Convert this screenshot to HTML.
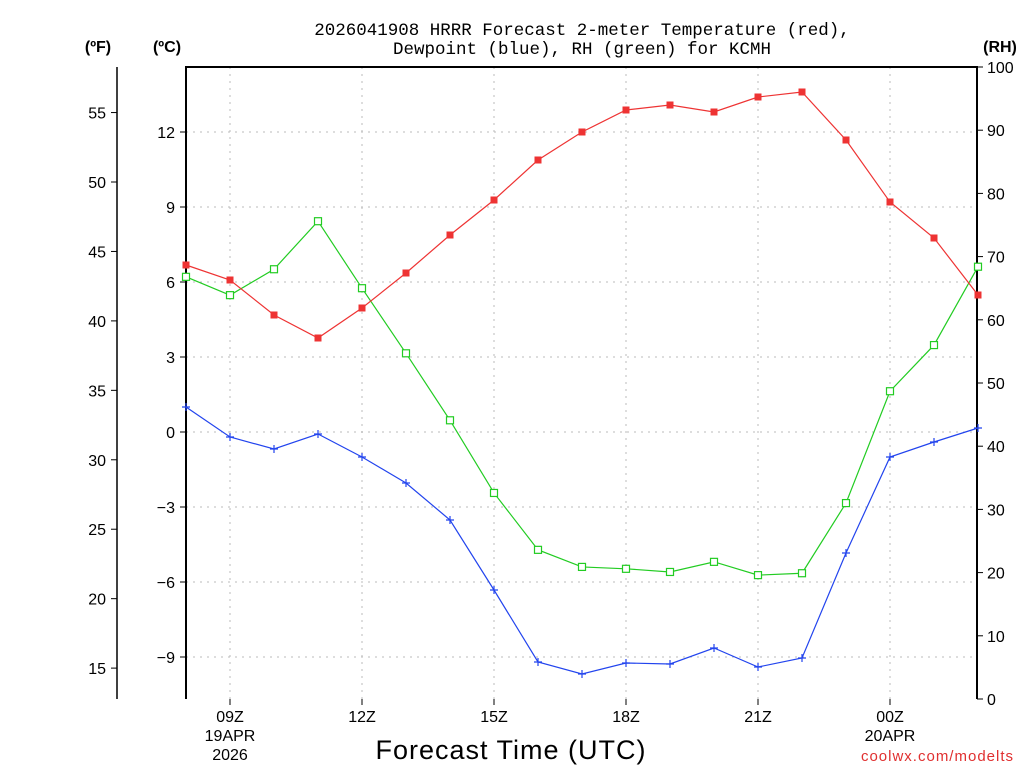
<!DOCTYPE html>
<html><head><meta charset="utf-8"><style>
html,body{margin:0;padding:0;background:#fff;}
svg{display:block;font-family:"Liberation Sans",sans-serif;}
</style></head><body>
<svg id="chart" width="1024" height="768" xmlns="http://www.w3.org/2000/svg">
<text x="582" y="35" text-anchor="middle" font-size="17.5" font-family="Liberation Mono, monospace">2026041908 HRRR Forecast 2-meter Temperature (red),</text>
<text x="582" y="54" text-anchor="middle" font-size="17.5" font-family="Liberation Mono, monospace">Dewpoint (blue), RH (green) for KCMH</text>
<text x="98" y="52" text-anchor="middle" font-size="16" font-weight="bold">(ºF)</text>
<text x="167" y="52" text-anchor="middle" font-size="16" font-weight="bold">(ºC)</text>
<text x="1000" y="52" text-anchor="middle" font-size="16" font-weight="bold">(RH)</text>
<text x="511" y="759" text-anchor="middle" font-size="27" letter-spacing="1">Forecast Time (UTC)</text>
<text x="1014" y="761" text-anchor="end" font-size="15" fill="#e03030" letter-spacing="1">coolwx.com/modelts</text>
<g id="g"></g>
</svg>
<script>
const hours = [8,9,10,11,12,13,14,15,16,17,18,19,20,21,22,23,24,25,26];
const tempC = [6.68,6.08,4.68,3.76,4.96,6.36,7.88,9.28,10.88,12.0,12.88,13.08,12.8,13.4,13.6,11.68,9.2,7.76,5.48];
const dewC = [1.0,-0.2,-0.68,-0.08,-1.0,-2.04,-3.52,-6.32,-9.2,-9.68,-9.24,-9.28,-8.64,-9.4,-9.04,-4.84,-1.0,-0.4,0.16];
const rh = [66.8,63.9,68.0,75.6,65.0,54.7,44.1,32.6,23.6,20.9,20.6,20.1,21.7,19.6,19.9,31.0,48.7,56.0,68.4];
const cTicks = [12,9,6,3,0,-3,-6,-9];
const fTicks = [55,50,45,40,35,30,25,20,15];
const rhTicks = [0,10,20,30,40,50,60,70,80,90,100];
const xTicks = [9,12,15,18,21,24];
const xLabels = ["09Z","12Z","15Z","18Z","21Z","00Z"];
const xSub1 = ["19APR","","","","","20APR"];
const xSub2 = ["2026","","","","",""];

const L=186,R=977,T=67,B=699;
const xs = h => L + (h-8)*44;
const yC = c => 432 - 25*c;
const yF = f => yC((f-32)/1.8);
const yR = r => B - (B-T)*r/100;
const NS="http://www.w3.org/2000/svg";
const g=document.getElementById('g');
function el(tag,attrs,text){const e=document.createElementNS(NS,tag);for(const k in attrs)e.setAttribute(k,attrs[k]);if(text!==undefined)e.textContent=text;g.appendChild(e);return e;}

cTicks.forEach(c=>{const e=el('line',{x1:L,x2:R,y1:yC(c),y2:yC(c),stroke:'#bbb','stroke-dasharray':'2,5'});

});
xTicks.forEach(h=>{const e=el('line',{x1:xs(h),x2:xs(h),y1:T,y2:B,stroke:'#bbb','stroke-dasharray':'2,5'});

});

let fr=el('path',{d:`M${L},${B} L${L},${T} L${R},${T} L${R},${B}`,fill:'none',stroke:'#000','stroke-width':2});


let fa=el('line',{x1:117,x2:117,y1:67,y2:699,stroke:'#000','stroke-width':1.5});



cTicks.forEach(c=>{el('line',{x1:L-6,x2:L,y1:yC(c),y2:yC(c),stroke:'#000'});
const t=el('text',{x:L-11,y:yC(c)+6,'text-anchor':'end','font-size':16},c===0?'0':String(c).replace('-','−'));

});
fTicks.forEach(f=>{el('line',{x1:111,x2:117,y1:yF(f),y2:yF(f),stroke:'#000'});
const t=el('text',{x:106,y:yF(f)+6,'text-anchor':'end','font-size':16},String(f));

});
rhTicks.forEach(r=>{el('line',{x1:R,x2:R+6,y1:yR(r),y2:yR(r),stroke:'#000'});
const t=el('text',{x:R+10,y:yR(r)+6,'font-size':16},String(r));

});
xTicks.forEach((h,i)=>{el('line',{x1:xs(h),x2:xs(h),y1:B,y2:B+6,stroke:'#000'});
const t=el('text',{x:xs(h),y:722,'text-anchor':'middle','font-size':16},xLabels[i]);


if(xSub1[i]){const s=el('text',{x:xs(h),y:741,'text-anchor':'middle','font-size':16},xSub1[i]);

}
if(xSub2[i]){const s=el('text',{x:xs(h),y:760,'text-anchor':'middle','font-size':16},xSub2[i]);

}});

function series(vals,yf,color,name,marker){
  const pts=vals.map((v,i)=>[xs(hours[i]),yf(v)]);
  const p=el('polyline',{points:pts.map(p=>p.join(',')).join(' '),fill:'none',stroke:color,'stroke-width':1.2});
  
  
  pts.forEach(([x,y])=>{let m;
    if(marker==='sq')m=el('rect',{x:x-3.5,y:y-3.5,width:7,height:7,fill:color});
    else if(marker==='osq')m=el('rect',{x:x-3.5,y:y-3.5,width:7,height:7,fill:'#fff',stroke:color,'stroke-width':1.2});
    else m=el('path',{d:`M${x-4},${y}H${x+4}M${x},${y-4}V${y+4}`,stroke:color,'stroke-width':1.2});
    
    });
}
series(rh,yR,'#22cc22','rh','osq');
series(dewC,yC,'#2244ee','dewpoint','plus');
series(tempC,yC,'#ee3333','temperature','sq');
</script>
</body></html>
